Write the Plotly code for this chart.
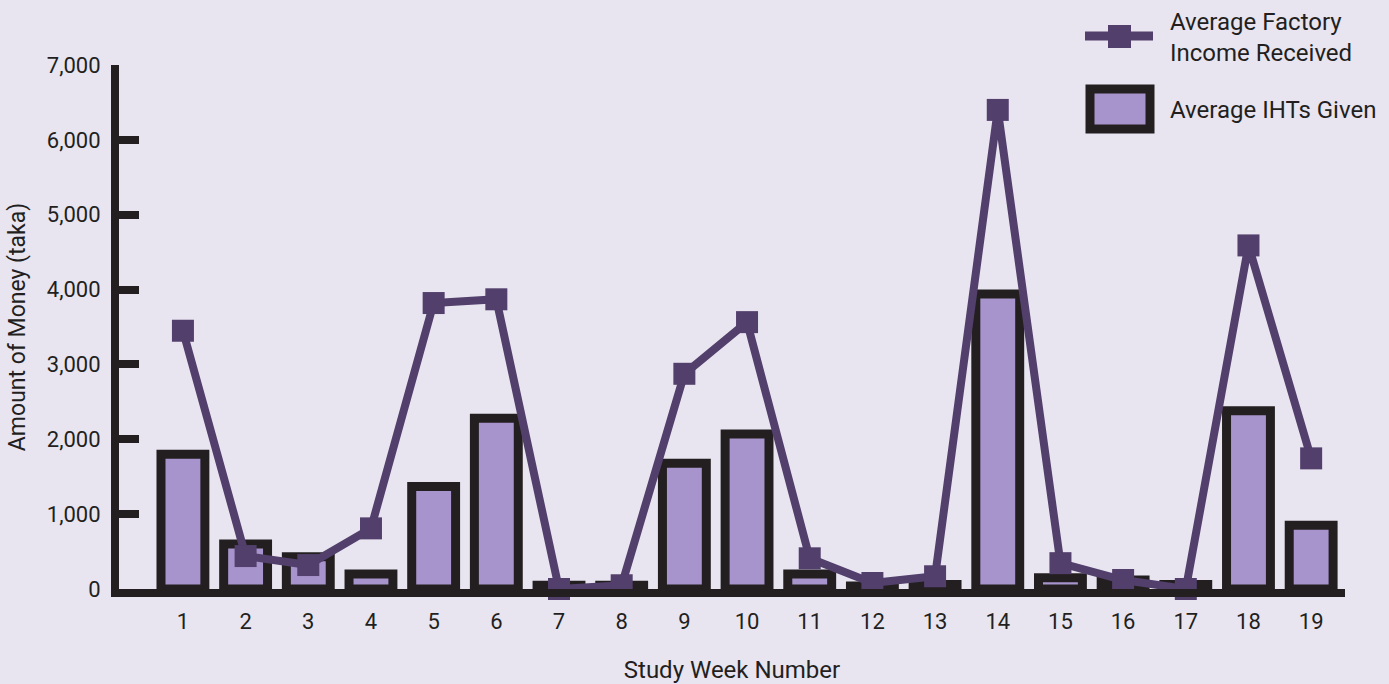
import plotly.graph_objects as go

weeks = list(range(1, 20))
ihts_given = [1800, 600, 430, 200, 1370, 2280, 50, 50, 1680, 2070,
              200, 40, 60, 3940, 150, 120, 60, 2380, 850]
factory_income = [3450, 440, 320, 810, 3820, 3870, 0, 50, 2875, 3565,
                  410, 80, 170, 6400, 345, 120, 0, 4590, 1745]

line_name = "Average Factory<br>Income Received"
bar_name = "Average IHTs Given"

ink = "#231f20"
plum = "#523f6b"
lilac = "#a894cc"
bg = "#e8e5f1"
font = "Roboto"

# plot area in pixels, used to place the hand-drawn legend
L, T, W, H = 119, 65, 1226, 524


def px_x(x):
    return (x - L) / W


def px_y(y):
    return (T + H - y) / H


fig = go.Figure()

fig.add_trace(go.Bar(
    x=weeks, y=ihts_given, name=bar_name,
    width=0.7,
    marker=dict(color=lilac, line=dict(color=ink, width=9)),
))

fig.add_trace(go.Scatter(
    x=weeks, y=factory_income, name=line_name,
    mode="lines+markers",
    line=dict(color=plum, width=8),
    marker=dict(symbol="square", size=22, color=plum),
    cliponaxis=False,
))

# legend drawn by hand so the symbols match the big original ones
shapes = [
    dict(type="line", xref="paper", yref="paper",
         x0=px_x(1085), x1=px_x(1153), y0=px_y(36), y1=px_y(36),
         line=dict(color=plum, width=9)),
    dict(type="rect", xref="paper", yref="paper",
         x0=px_x(1108), x1=px_x(1131), y0=px_y(25), y1=px_y(48),
         fillcolor=plum, line=dict(width=0)),
    dict(type="rect", xref="paper", yref="paper",
         x0=px_x(1090), x1=px_x(1150), y0=px_y(89), y1=px_y(129),
         fillcolor=lilac, line=dict(color=ink, width=9)),
]
annotations = [
    dict(text=line_name, xref="paper", yref="paper", x=px_x(1168), y=px_y(37),
         xanchor="left", yanchor="middle", align="left", showarrow=False,
         font=dict(size=24, family=font, color=ink)),
    dict(text=bar_name, xref="paper", yref="paper", x=px_x(1168), y=px_y(110),
         xanchor="left", yanchor="middle", align="left", showarrow=False,
         font=dict(size=24, family=font, color=ink)),
]

fig.update_layout(
    width=1389, height=684,
    paper_bgcolor=bg, plot_bgcolor=bg,
    margin=dict(l=L, r=1389 - L - W, t=T, b=684 - T - H),
    font=dict(family=font, color=ink, size=22),
    showlegend=False,
    shapes=shapes,
    annotations=annotations,
)

fig.update_xaxes(
    automargin=False,
    range=[-0.02, 19.54],
    tickmode="array", tickvals=weeks, ticktext=[str(w) for w in weeks],
    showgrid=False, zeroline=False,
    showline=True, linewidth=8, linecolor=ink,
    ticks="", tickfont=dict(size=22, family=font, color=ink),
    ticklabelstandoff=6,
    title=dict(text="Study Week Number", font=dict(size=24, family=font, color=ink),
               standoff=34),
)

fig.update_yaxes(
    automargin=False,
    range=[0, 7000],
    tickvals=[0, 1000, 2000, 3000, 4000, 5000, 6000, 7000],
    tickformat=",",
    showgrid=False, zeroline=False,
    showline=True, linewidth=8, linecolor=ink,
    ticks="inside", ticklen=20, tickwidth=8, tickcolor=ink,
    tickfont=dict(size=22, family=font, color=ink),
    ticklabelstandoff=6,
    title=dict(text="Amount of Money (taka)", font=dict(size=23, family=font, color=ink),
               standoff=18),
)

page_fix = (
    "document.documentElement.style.overflow='hidden';"
    "document.body.style.margin='0';"
    "document.body.style.overflow='hidden';"
    "document.body.style.height='684px';"
)

fig.write_html("out.html", config={"displayModeBar": False}, post_script=page_fix)
